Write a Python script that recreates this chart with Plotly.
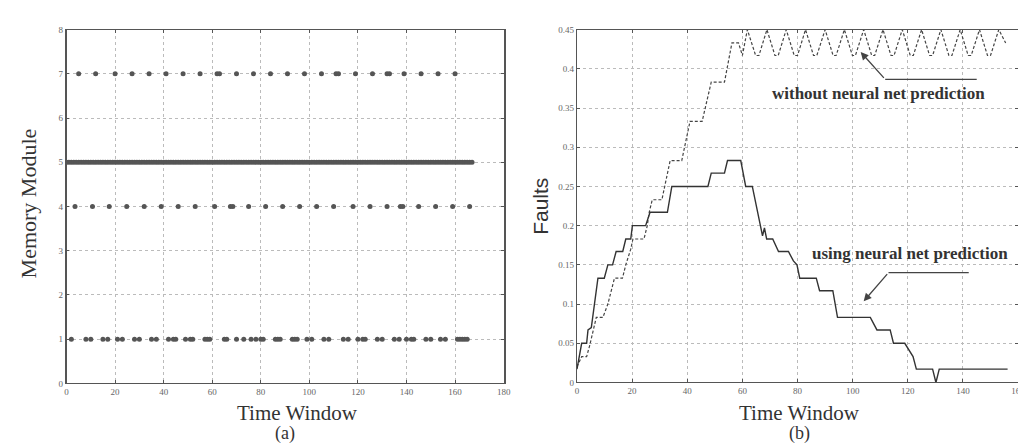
import plotly.graph_objects as go

# ---------------- Data: panel (a) ----------------
mod7_t = [5, 12, 20, 27, 34, 41, 48, 55, 62, 63, 70, 77, 84, 91, 98, 105, 111, 112, 119, 126, 132, 133, 139, 146, 153, 160]
mod4_t = [3.5, 10.7, 17.6, 24.8, 32, 39, 46, 53, 61, 67.5, 68.5, 75, 82, 89, 96, 103, 110, 118, 125, 132, 137.5, 138.5, 145, 152, 159, 166]
mod5_t = list(range(0, 168))
mod1_t = [2, 8, 10, 15, 17, 21, 23, 28, 30, 35, 37, 42, 44, 45, 49, 51, 52, 57, 58, 59, 65, 66, 70, 73, 76, 78, 80, 81,
          86, 87, 88, 93, 94, 95, 99, 101, 106, 108, 114, 116, 120, 122, 123, 128, 130, 135, 137, 140, 142, 143,
          148, 150, 154, 156, 161, 162, 163, 164, 165]

# ---------------- Data: panel (b) ----------------
nn_t = [0, 1.7, 3.5, 4, 5.2, 7.6, 9.9, 11.2, 12.9, 14.2, 16.6, 17.7, 19.5, 20.1, 24.9, 26.5, 32.8, 34.4, 47.5, 48.7,
        53.5, 54.6, 59.4, 61.2, 63.6, 66.5, 67.3, 68, 68.8, 71, 73.1, 76.7, 78.5, 79.8, 80.8, 86.8, 88, 92.8, 94.5,
        106.4, 108.8, 113.6, 114.8, 118.9, 120.5, 121.9, 123.1, 129, 130.2, 131.4, 156.2]
nn_f = [0.017, 0.05, 0.05, 0.067, 0.07, 0.133, 0.133, 0.15, 0.15, 0.167, 0.167, 0.183, 0.183, 0.2, 0.2, 0.217, 0.217,
        0.25, 0.25, 0.267, 0.267, 0.283, 0.283, 0.25, 0.25, 0.2, 0.187, 0.197, 0.183, 0.183, 0.167, 0.167, 0.155,
        0.15, 0.133, 0.133, 0.117, 0.117, 0.083, 0.083, 0.067, 0.067, 0.05, 0.05, 0.04, 0.033, 0.017, 0.017, 0.0,
        0.017, 0.017]

nonn_t = [0, 1.7, 3.5, 4.6, 7, 9.4, 11.2, 13.6, 16.5, 17.7, 19.5, 20.3, 24.3, 25.5, 26.2, 27.3, 30.8, 33.8, 38, 41,
          45.4, 48.7, 53.5, 56.2, 58.6, 60, 61.8, 64.8, 66, 68.9, 71.8, 73, 75.9, 78.8, 80, 82.9, 85.8, 87, 90,
          92.9, 94, 97, 99.9, 101, 104, 106.9, 108, 111, 113.9, 115, 118, 120.9, 122, 125, 127.9, 129, 132, 134.9,
          136, 139, 141.9, 143, 146, 148.9, 150, 153, 155.5]
nonn_f = [0.02, 0.033, 0.033, 0.047, 0.083, 0.083, 0.1, 0.133, 0.133, 0.15, 0.17, 0.183, 0.183, 0.2, 0.217, 0.233,
          0.233, 0.283, 0.283, 0.333, 0.333, 0.383, 0.383, 0.433, 0.433, 0.417, 0.45, 0.417, 0.417, 0.45, 0.417,
          0.417, 0.45, 0.417, 0.417, 0.45, 0.417, 0.417, 0.45, 0.417, 0.417, 0.45, 0.417, 0.417, 0.45, 0.417,
          0.417, 0.45, 0.417, 0.417, 0.45, 0.417, 0.417, 0.45, 0.417, 0.417, 0.45, 0.417, 0.417, 0.45, 0.417,
          0.417, 0.45, 0.417, 0.417, 0.45, 0.433]

a_xticks = [0, 20, 40, 60, 80, 100, 120, 140, 160, 180]
a_yticks = [0, 1, 2, 3, 4, 5, 6, 7, 8]
b_xticks = [0, 20, 40, 60, 80, 100, 120, 140, 160]
b_yticks = [0, 0.05, 0.1, 0.15, 0.2, 0.25, 0.3, 0.35, 0.4, 0.45]
b_ylabels = ["0", "0.05", "0.1", "0.15", "0.2", "0.25", "0.3", "0.35", "0.4", "0.45"]

SERIF = "Liberation Serif, Times New Roman, serif"
SANS = "Liberation Sans, Arial, sans-serif"
W, H = 1026, 443

def px_x(p):
    return p / W

def px_y(p):
    return 1 - p / H

fig = go.Figure()

mk = dict(color="#555555", size=5, symbol="circle")
for ts, lvl in [(mod7_t, 7), (mod4_t, 4), (mod5_t, 5), (mod1_t, 1)]:
    fig.add_trace(go.Scatter(x=ts, y=[lvl] * len(ts), mode="markers", marker=mk,
                             xaxis="x", yaxis="y", showlegend=False, hoverinfo="skip"))

fig.add_trace(go.Scatter(x=nonn_t, y=nonn_f, mode="lines", line=dict(color="#444444", width=1.2, dash="3px,2px"),
                         xaxis="x2", yaxis="y2", showlegend=False, cliponaxis=True))
fig.add_trace(go.Scatter(x=nn_t, y=nn_f, mode="lines", line=dict(color="#333333", width=1.4),
                         xaxis="x2", yaxis="y2", showlegend=False))

tickfont = dict(family=SERIF, size=9, color="#666666")
common_x = dict(showgrid=True, gridcolor="#bbbbbb", griddash="dot", gridwidth=1, zeroline=False,
                showline=True, linecolor="#555555", linewidth=1.2, mirror="ticks", ticks="inside",
                ticklen=3, tickcolor="#555555", tickfont=tickfont)

fig.update_layout(
    width=W, height=H, margin=dict(l=0, r=0, t=0, b=0),
    paper_bgcolor="white", plot_bgcolor="white",
    xaxis=dict(domain=[px_x(57), px_x(498)], range=[0, 180], tickvals=a_xticks, anchor="y", **common_x),
    yaxis=dict(domain=[px_y(379), px_y(17)], range=[0, 8], tickvals=a_yticks, anchor="x", **common_x),
    xaxis2=dict(domain=[px_x(572), px_x(1017)], range=[0, 160], tickvals=b_xticks, anchor="y2", **common_x),
    yaxis2=dict(domain=[px_y(378), px_y(17)], range=[0, 0.45], tickvals=b_yticks, ticktext=b_ylabels,
                anchor="x2", **common_x),
)
fig.update_yaxes(linewidth=1.6, selector=dict(anchor="x"))

annots = [
    dict(text="Memory Module", x=px_x(19), y=px_y(195), textangle=-90, font=dict(family=SERIF, size=22, color="#333333")),
    dict(text="Time Window", x=px_x(290), y=px_y(409), font=dict(family=SERIF, size=21, color="#333333")),
    dict(text="(a)", x=px_x(277), y=px_y(430), font=dict(family=SERIF, size=18, color="#333333")),
    dict(text="Faults", x=px_x(535), y=px_y(198), textangle=-90, font=dict(family=SANS, size=21, color="#333333")),
    dict(text="Time Window", x=px_x(796), y=px_y(409), font=dict(family=SERIF, size=21, color="#333333")),
    dict(text="(b)", x=px_x(796), y=px_y(430), font=dict(family=SERIF, size=18, color="#333333")),
]
for a in annots:
    fig.add_annotation(xref="paper", yref="paper", showarrow=False,
                       xanchor="center", yanchor="middle", **a)

lab_font = dict(family=SERIF, size=17, color="#333333")
fig.add_annotation(xref="x2", yref="y2", x=109.5, y=0.368, text="<b>without neural net prediction</b>",
                   showarrow=False, font=lab_font, xanchor="center", yanchor="middle")
fig.add_annotation(xref="x2", yref="y2", x=120.7, y=0.164, text="<b>using neural net prediction</b>",
                   showarrow=False, font=lab_font, xanchor="center", yanchor="middle")

# leader lines
fig.add_shape(type="line", xref="x2", yref="y2", x0=111.8, y0=0.3865, x1=145, y1=0.3865,
              line=dict(color="#444444", width=1.2))
fig.add_annotation(xref="x2", yref="y2", axref="x2", ayref="y2", x=102.9, y=0.4215, ax=111.8, ay=0.3865,
                   showarrow=True, arrowhead=2, arrowsize=1.2, arrowwidth=1.3, arrowcolor="#444444", text="")
fig.add_shape(type="line", xref="x2", yref="y2", x0=113, y0=0.14, x1=142.1, y1=0.14,
              line=dict(color="#444444", width=1.2))
fig.add_annotation(xref="x2", yref="y2", axref="x2", ayref="y2", x=104, y=0.1035, ax=113, ay=0.14,
                   showarrow=True, arrowhead=2, arrowsize=1.2, arrowwidth=1.3, arrowcolor="#444444", text="")

fig.write_html("out.html")
